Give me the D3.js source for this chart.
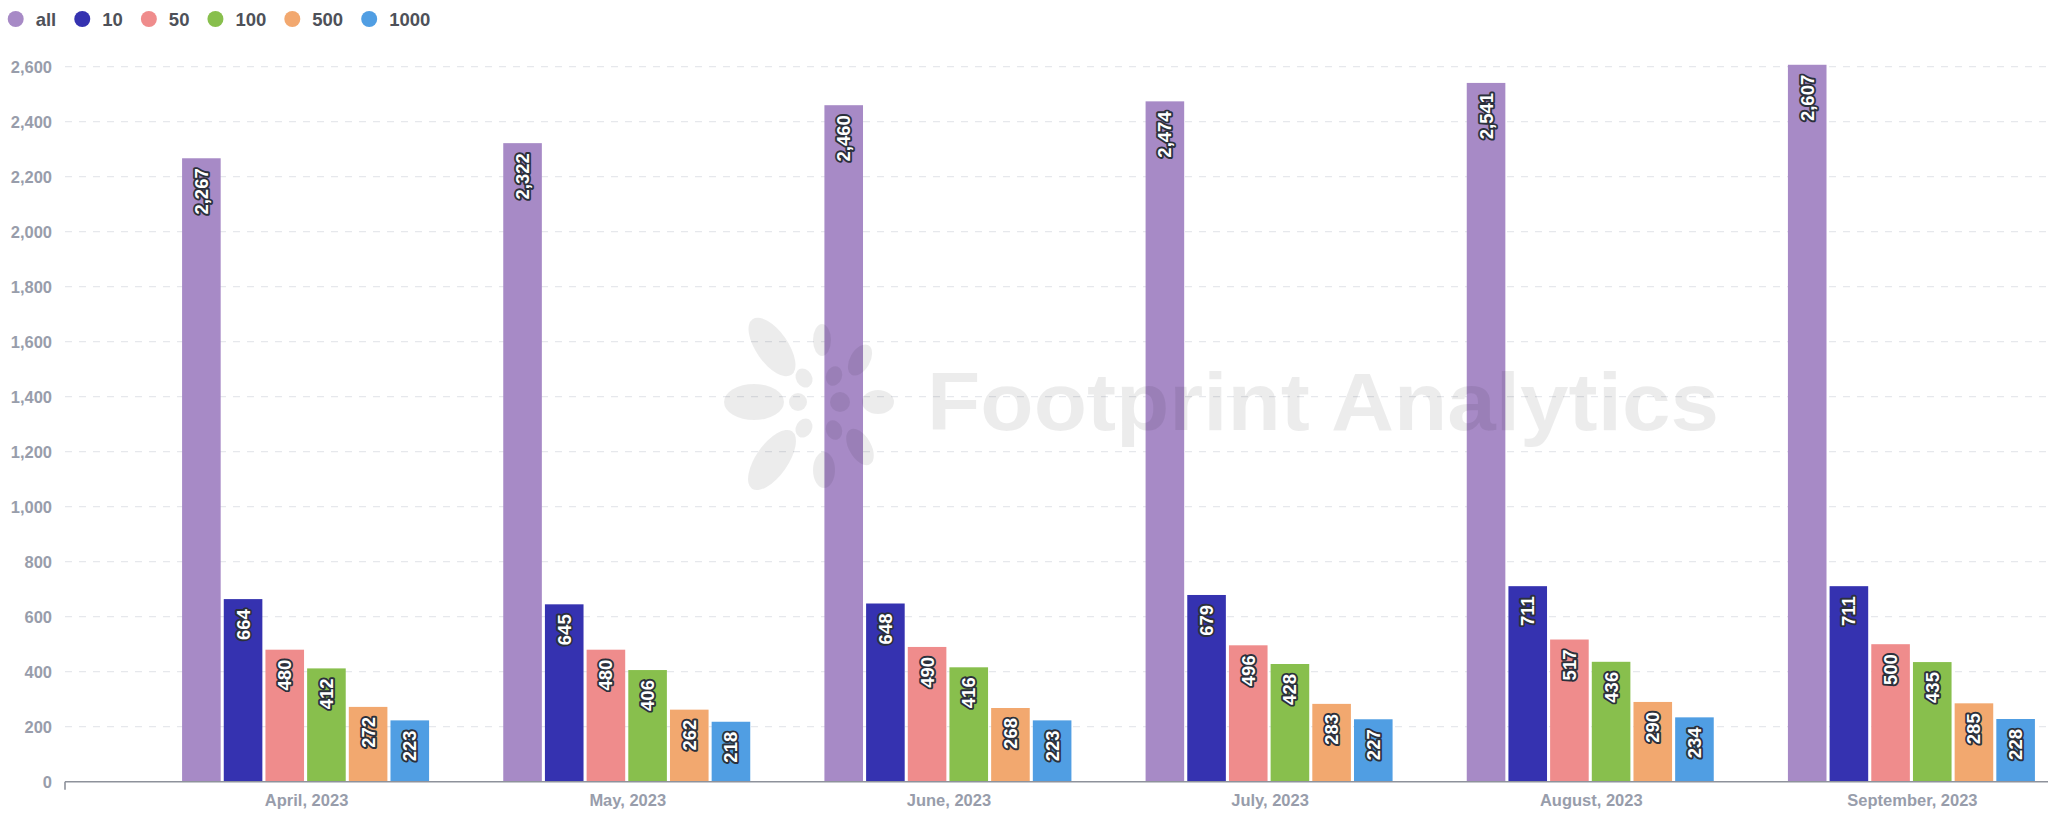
<!DOCTYPE html>
<html>
<head>
<meta charset="utf-8">
<script src="https://cdn.jsdelivr.net/npm/d3@7"></script>
<style>
  html, body { margin: 0; padding: 0; background: #ffffff; }
  svg { display: block; }
  text { font-family: "Liberation Sans", Arial, Helvetica, sans-serif; }
</style>
</head>
<body>
<svg id="chart" width="2048" height="816"></svg>
<script>
// ---- data ----
const months = ["April, 2023", "May, 2023", "June, 2023", "July, 2023", "August, 2023", "September, 2023"];
const seriesNames = ["all", "10", "50", "100", "500", "1000"];
const seriesColors = ["#A78AC6", "#3532B0", "#EF8C8C", "#88BF4D", "#F2A86F", "#509EE3"];
const valuesAll  = [2267, 2322, 2460, 2474, 2541, 2607];
const values10   = [664, 645, 648, 679, 711, 711];
const values50   = [480, 480, 490, 496, 517, 500];
const values100  = [412, 406, 416, 428, 436, 435];
const values500  = [272, 262, 268, 283, 290, 285];
const values1000 = [223, 218, 223, 227, 234, 228];
const yTicks = [0, 200, 400, 600, 800, 1000, 1200, 1400, 1600, 1800, 2000, 2200, 2400, 2600];

const seriesValues = [valuesAll, values10, values50, values100, values500, values1000];

const svg = d3.select("#chart");

const x0 = d3.scaleBand().domain(months).range([145, 2072]).paddingInner(0).paddingOuter(0);
const groupWidth = 247;
const x1 = d3.scaleBand().domain(seriesNames).range([0, groupWidth]).paddingInner(0.074).paddingOuter(0);
const y = d3.scaleLinear().domain([0, 2600]).range([781.7, 66.7]);

// gridlines
const grid = svg.append("g");
grid.selectAll("line").data(yTicks.filter(d => d > 0)).join("line")
  .attr("x1", 65).attr("x2", 2048)
  .attr("y1", d => y(d)).attr("y2", d => y(d))
  .attr("stroke", "#e6e8ec").attr("stroke-width", 1.3)
  .attr("stroke-dasharray", "7,7");

// y tick labels
svg.append("g").selectAll("text").data(yTicks).join("text")
  .attr("x", 52).attr("y", d => y(d))
  .attr("text-anchor", "end").attr("dominant-baseline", "central")
  .attr("font-size", 16.5).attr("font-weight", "bold").attr("fill", "#989dab")
  .text(d => d3.format(",")(d));

// bars
const groups = svg.append("g").selectAll("g").data(months).join("g")
  .attr("transform", d => `translate(${x0(d) + x0.bandwidth() / 2 - groupWidth / 2},0)`);

groups.each(function (m, mi) {
  const g = d3.select(this);
  const rows = seriesNames.map((s, si) => ({ s, si, v: seriesValues[si][mi] }));
  g.selectAll("rect").data(rows).join("rect")
    .attr("x", d => x1(d.s)).attr("width", x1.bandwidth())
    .attr("y", d => y(d.v)).attr("height", d => y(0) - y(d.v))
    .attr("fill", d => seriesColors[d.si]);
});

// x axis
svg.append("line").attr("x1", 65).attr("x2", 2048).attr("y1", y(0)).attr("y2", y(0))
  .attr("stroke", "#8e929b").attr("stroke-width", 1.6);
svg.append("line").attr("x1", 65).attr("x2", 65).attr("y1", y(0)).attr("y2", y(0) + 8)
  .attr("stroke", "#8e929b").attr("stroke-width", 1.6);

svg.append("g").selectAll("text").data(months).join("text")
  .attr("x", d => x0(d) + x0.bandwidth() / 2 + 1).attr("y", 806)
  .attr("text-anchor", "middle")
  .attr("font-size", 16.5).attr("font-weight", "bold").attr("fill", "#989dab")
  .text(d => d);

// watermark (drawn over bars, semi-transparent)
const wm = svg.append("g").attr("fill", "#000").attr("fill-opacity", 0.075);
wm.append("text").attr("x", 927).attr("y", 430)
  .attr("font-size", 82).attr("font-weight", "bold")
  .attr("textLength", 792).attr("lengthAdjust", "spacingAndGlyphs")
  .text("Footprint Analytics");
const logo = wm.append("g").attr("transform", "translate(820,402)");
const petals = [
  { cx: -48, cy: -55, rx: 16, ry: 34, rot: -35 },
  { cx: -66, cy: 0, rx: 30, ry: 18, rot: 0 },
  { cx: -48, cy: 58, rx: 16, ry: 35, rot: 35 },
  { cx: 2, cy: -62, rx: 9, ry: 16, rot: 0 },
  { cx: 40, cy: -42, rx: 10, ry: 17, rot: 30 },
  { cx: 58, cy: 0, rx: 16, ry: 12, rot: 0 },
  { cx: 40, cy: 45, rx: 11, ry: 20, rot: -30 },
  { cx: 4, cy: 68, rx: 11, ry: 18, rot: 0 },
  { cx: -16, cy: -24, rx: 8, ry: 10, rot: -30 },
  { cx: -22, cy: 0, rx: 9, ry: 9, rot: 0 },
  { cx: -16, cy: 26, rx: 8, ry: 10, rot: 30 },
  { cx: 14, cy: -26, rx: 8, ry: 10, rot: 20 },
  { cx: 20, cy: 0, rx: 10, ry: 10, rot: 0 },
  { cx: 14, cy: 28, rx: 8, ry: 10, rot: -20 }
];
logo.selectAll("ellipse").data(petals).join("ellipse")
  .attr("cx", d => d.cx).attr("cy", d => d.cy).attr("rx", d => d.rx).attr("ry", d => d.ry)
  .attr("transform", d => `rotate(${d.rot},${d.cx},${d.cy})`);

// value labels
groups.each(function (m, mi) {
  const g = d3.select(this);
  const rows = seriesNames.map((s, si) => ({ s, si, v: seriesValues[si][mi] }));
  g.selectAll("text.val").data(rows).join("text")
    .attr("class", "val")
    .attr("transform", d => `translate(${x1(d.s) + x1.bandwidth() / 2},${y(d.v) + 10}) rotate(-90)`)
    .attr("text-anchor", "end").attr("dominant-baseline", "central")
    .attr("font-size", 18.5).attr("font-weight", "bold")
    .attr("fill", "#ffffff").attr("stroke", "#2b303b").attr("stroke-width", 3.8)
    .attr("stroke-linejoin", "round").attr("paint-order", "stroke")
    .text(d => d3.format(",")(d.v));
});

// legend
const legend = svg.append("g");
let lx = 15.7;
seriesNames.forEach((s, i) => {
  legend.append("circle").attr("cx", lx).attr("cy", 19).attr("r", 8).attr("fill", seriesColors[i]);
  const t = legend.append("text").attr("x", lx + 20).attr("y", 19)
    .attr("dominant-baseline", "central")
    .attr("font-size", 18.5).attr("font-weight", "bold").attr("fill", "#4e5159")
    .text(s);
  lx = lx + 20 + t.node().getComputedTextLength() + 26;
});
</script>
</body>
</html>
